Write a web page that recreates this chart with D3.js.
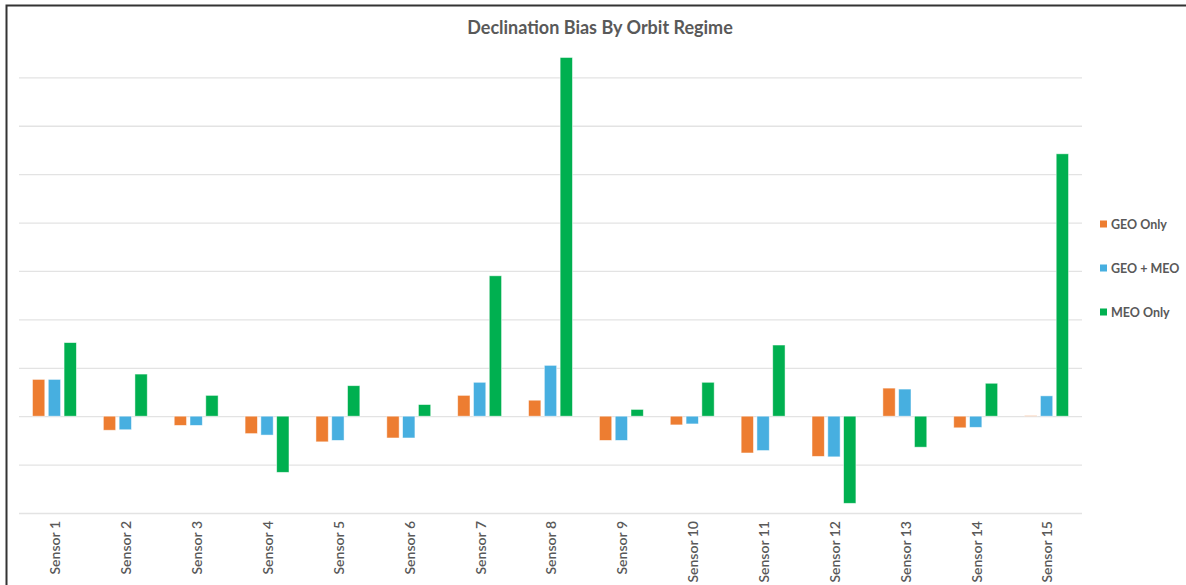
<!DOCTYPE html>
<html>
<head>
<meta charset="utf-8">
<script src="https://cdn.jsdelivr.net/npm/d3@7"></script>
<style>
  html, body { margin: 0; padding: 0; background: #fff; }
  svg { display: block; }
</style>
</head>
<body>
<svg id="chart" width="1186" height="585"></svg>
<script>
// Sensors along the x axis
const categories = ["Sensor 1","Sensor 2","Sensor 3","Sensor 4","Sensor 5","Sensor 6","Sensor 7","Sensor 8",
  "Sensor 9","Sensor 10","Sensor 11","Sensor 12","Sensor 13","Sensor 14","Sensor 15"];

// Declination bias per sensor, one array per orbit regime
const geoOnly = [0.76, -0.29, -0.19, -0.36, -0.53, -0.45, 0.43, 0.33, -0.50, -0.18, -0.76, -0.83, 0.58, -0.24, 0.01];
const geoMeo  = [0.76, -0.28, -0.19, -0.39, -0.50, -0.45, 0.70, 1.05, -0.50, -0.16, -0.71, -0.84, 0.56, -0.23, 0.42];
const meoOnly = [1.52, 0.87, 0.43, -1.16, 0.63, 0.24, 2.90, 7.41, 0.14, 0.70, 1.47, -1.80, -0.64, 0.68, 5.42];

const seriesNames = ["GEO Only", "GEO + MEO", "MEO Only"];
const seriesColors = ["#ED7D31", "#47AFE0", "#00B050"];
const yTicks = [-2, -1, 0, 1, 2, 3, 4, 5, 6, 7];

const seriesValues = [geoOnly, geoMeo, meoOnly];
const rows = categories.map((c, i) => ({
  cat: c,
  vals: seriesNames.map((s, k) => ({ series: s, color: seriesColors[k], value: seriesValues[k][i] }))
}));

const svg = d3.select("#chart");
const textColor = "#595959";

// chart frame (left and top edges)
svg.append("path")
  .attr("d", "M6.5,585 L6.5,5.5 L1186,5.5")
  .attr("fill", "none")
  .attr("stroke", "#333")
  .attr("stroke-width", 2);

const plot = { left: 19, right: 1082, top: 57, bottom: 513 };

const x0 = d3.scaleBand().domain(categories).range([plot.left, plot.right]).padding(0);
const x1 = d3.scaleBand().domain(seriesNames).range([-21.95, 21.95]).paddingInner(0.22).paddingOuter(0);
const y = d3.scaleLinear().domain([-2, 7.42]).range([plot.bottom, plot.top]);

// horizontal gridlines
const grid = svg.append("g")
  .attr("transform", `translate(${plot.left},0)`)
  .call(d3.axisLeft(y).tickValues(yTicks).tickSize(-(plot.right - plot.left)).tickFormat(""));
grid.select(".domain").remove();
grid.selectAll(".tick line").attr("stroke", "#e3e3e3").attr("stroke-width", 1.3);

// bars
const groups = svg.append("g").selectAll("g")
  .data(rows)
  .join("g")
  .attr("transform", d => `translate(${x0(d.cat) + x0.bandwidth() / 2},0)`);

groups.selectAll("rect")
  .data(d => d.vals)
  .join("rect")
  .attr("x", d => x1(d.series))
  .attr("width", x1.bandwidth())
  .attr("y", d => y(Math.max(0, d.value)))
  .attr("height", d => Math.abs(y(d.value) - y(0)))
  .attr("fill", d => d.color)
  .attr("stroke", "#ffffff")
  .attr("stroke-opacity", 0.6)
  .attr("stroke-width", 0.8);

// category labels, rotated
const xAxis = svg.append("g")
  .attr("transform", `translate(0,${plot.bottom})`)
  .call(d3.axisBottom(x0).tickSize(0).tickPadding(0));
xAxis.select(".domain").remove();
xAxis.selectAll("text")
  .attr("transform", "translate(1,8) rotate(-90)")
  .attr("x", 0)
  .attr("y", 0)
  .attr("dy", "0.35em")
  .attr("text-anchor", "end")
  .attr("fill", textColor)
  .style("font-family", "Lato, 'Open Sans', sans-serif")
  .style("font-size", "14px")
  .style("font-weight", "600");

// title
svg.append("text")
  .attr("x", 600)
  .attr("y", 34)
  .attr("text-anchor", "middle")
  .attr("fill", textColor)
  .style("font-family", "Lato, 'Open Sans', sans-serif")
  .style("font-size", "18px")
  .style("font-weight", "bold")
  .text("Declination Bias By Orbit Regime");

// legend
const legend = svg.append("g").selectAll("g")
  .data(seriesNames)
  .join("g")
  .attr("transform", (d, i) => `translate(1100,${224 + i * 44})`);
legend.append("rect")
  .attr("x", 0).attr("y", -3.5)
  .attr("width", 7).attr("height", 7)
  .attr("fill", (d, i) => seriesColors[i]);
legend.append("text")
  .attr("x", 11)
  .attr("y", 0)
  .attr("dy", "0.36em")
  .attr("fill", textColor)
  .style("font-family", "Lato, 'Open Sans', sans-serif")
  .style("font-size", "12.5px")
  .style("font-weight", "bold")
  .text(d => d);
</script>
</body>
</html>
